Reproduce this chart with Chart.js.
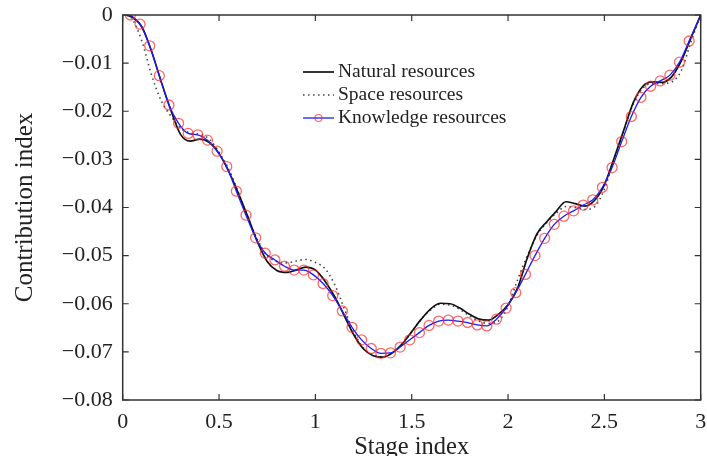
<!DOCTYPE html>
<html>
<head>
<meta charset="utf-8">
<script src="https://cdn.jsdelivr.net/npm/chart.js@4.4.1/dist/chart.umd.min.js"></script>
<style>
  html, body { margin: 0; padding: 0; background: #fff; }
  canvas { display: block; }
</style>
</head>
<body>
<canvas id="chart" width="707" height="456"></canvas>
<script>
const naturalX = [0.02, 0.05, 0.10, 0.15, 0.20, 0.25, 0.30, 0.35, 0.40, 0.45, 0.50, 0.55, 0.60, 0.65, 0.70, 0.75, 0.80, 0.85, 0.90, 0.95,
  1.00, 1.05, 1.10, 1.15, 1.20, 1.25, 1.30, 1.35, 1.40, 1.45, 1.50, 1.55, 1.60, 1.65, 1.70, 1.75, 1.80, 1.85, 1.90, 1.95,
  2.00, 2.05, 2.10, 2.15, 2.20, 2.25, 2.30, 2.35, 2.40, 2.45, 2.50, 2.55, 2.60, 2.65, 2.70, 2.75, 2.80, 2.85, 2.90, 2.95, 3.00];
const naturalY = [0, -0.0005, -0.0025, -0.0076, -0.0139, -0.0198, -0.0248, -0.0262, -0.0258, -0.0265, -0.0288, -0.0325, -0.0370, -0.0420, -0.0472, -0.0512, -0.0531, -0.0535, -0.0530, -0.0524,
  -0.0530, -0.0553, -0.0585, -0.0625, -0.0665, -0.0694, -0.0708, -0.0711, -0.0702, -0.0684, -0.0658, -0.0632, -0.0610, -0.0599, -0.0600, -0.0609, -0.0622, -0.0632, -0.0634, -0.0622,
  -0.0602, -0.0567, -0.0505, -0.0455, -0.0430, -0.0408, -0.0388, -0.0392, -0.0397, -0.0385, -0.0353, -0.0298, -0.0240, -0.0182, -0.0148, -0.0139, -0.0140, -0.0128, -0.0095, -0.0047, 0];

const spaceX = naturalX;
const spaceY = [0, -0.0008, -0.0055, -0.0125, -0.0178, -0.0210, -0.0235, -0.0245, -0.0248, -0.0258, -0.0285, -0.0320, -0.0368, -0.0420, -0.0467, -0.0500, -0.0512, -0.0515, -0.0511, -0.0508,
  -0.0514, -0.0527, -0.0560, -0.0610, -0.0660, -0.0692, -0.0707, -0.0710, -0.0702, -0.0684, -0.0658, -0.0632, -0.0612, -0.0601, -0.0603, -0.0612, -0.0625, -0.0636, -0.0641, -0.0636,
  -0.0605, -0.0550, -0.0500, -0.0458, -0.0432, -0.0412, -0.0398, -0.0400, -0.0404, -0.0398, -0.0362, -0.0300, -0.0242, -0.0185, -0.0152, -0.0142, -0.0142, -0.0139, -0.0115, -0.0055, 0];

// knowledge: markers every 0.05 from 0.04, line closes at x = 3
const knowledgeX = [0.04, 0.09, 0.14, 0.19, 0.24, 0.29, 0.34, 0.39, 0.44, 0.49, 0.54, 0.59, 0.64, 0.69, 0.74, 0.79, 0.84, 0.89, 0.94, 0.99,
  1.04, 1.09, 1.14, 1.19, 1.24, 1.29, 1.34, 1.39, 1.44, 1.49, 1.54, 1.59, 1.64, 1.69, 1.74, 1.79, 1.84, 1.89, 1.94, 1.99,
  2.04, 2.09, 2.14, 2.19, 2.24, 2.29, 2.34, 2.39, 2.44, 2.49, 2.54, 2.59, 2.64, 2.69, 2.74, 2.79, 2.84, 2.89, 2.94, 3.00];
const knowledgeY = [0, -0.0019, -0.0064, -0.0126, -0.0187, -0.0225, -0.0246, -0.0249, -0.0260, -0.0283, -0.0315, -0.0366, -0.0416, -0.0463, -0.0495, -0.0509, -0.0522, -0.0530, -0.0530, -0.0540,
  -0.0558, -0.0583, -0.0615, -0.0649, -0.0675, -0.0693, -0.0703, -0.0702, -0.0690, -0.0675, -0.0660, -0.0645, -0.0636, -0.0634, -0.0636, -0.0639, -0.0644, -0.0646, -0.0632, -0.0609,
  -0.0577, -0.0539, -0.0500, -0.0464, -0.0435, -0.0418, -0.0407, -0.0395, -0.0384, -0.0358, -0.0317, -0.0263, -0.0211, -0.0171, -0.0148, -0.0137, -0.0125, -0.0098, -0.0054, 0];

const seriesNames = ['Natural resources', 'Space resources', 'Knowledge resources'];
const xTitle = 'Stage index';
const yTitle = 'Contribution index';

const FONT = '"Liberation Serif", "Times New Roman", serif';
const INK = '#222';

const toPoints = (xs, ys) => xs.map((x, i) => ({ x, y: ys[i] }));

// boxed axes with inward ticks on all four sides
const frame = {
  id: 'frame',
  afterDatasetsDraw(chart) {
    const { ctx, chartArea: a, scales } = chart;
    ctx.save();
    ctx.strokeStyle = '#333';
    ctx.lineWidth = 1.5;
    ctx.strokeRect(a.left, a.top, a.right - a.left, a.bottom - a.top);
    ctx.lineWidth = 1.2;
    ctx.beginPath();
    scales.x.ticks.forEach((t) => {
      const px = scales.x.getPixelForValue(t.value);
      ctx.moveTo(px, a.bottom); ctx.lineTo(px, a.bottom - 6);
      ctx.moveTo(px, a.top); ctx.lineTo(px, a.top + 6);
    });
    scales.y.ticks.forEach((t) => {
      const py = scales.y.getPixelForValue(t.value);
      ctx.moveTo(a.left, py); ctx.lineTo(a.left + 6, py);
      ctx.moveTo(a.right, py); ctx.lineTo(a.right - 6, py);
    });
    ctx.stroke();
    ctx.restore();
  },
};

// legend inside the plot, no border
const insideLegend = {
  id: 'insideLegend',
  afterDraw(chart) {
    const { ctx } = chart;
    const x0 = 303, x1 = 334, tx = 338, y0 = 72, dy = 23;
    ctx.save();
    ctx.font = '19.5px ' + FONT;
    ctx.textBaseline = 'middle';
    chart.data.datasets.forEach((ds, i) => {
      const y = y0 + i * dy;
      ctx.strokeStyle = ds.borderColor;
      ctx.lineWidth = ds.borderWidth;
      ctx.setLineDash(ds.borderDash || []);
      ctx.beginPath(); ctx.moveTo(x0, y); ctx.lineTo(x1, y); ctx.stroke();
      ctx.setLineDash([]);
      if (ds.legendMarker) {
        ctx.strokeStyle = ds.pointBorderColor;
        ctx.lineWidth = 1.2;
        ctx.beginPath(); ctx.arc((x0 + x1) / 2, y, 3.5, 0, Math.PI * 2); ctx.stroke();
      }
      ctx.fillStyle = INK;
      ctx.fillText(ds.label, tx, y);
    });
    ctx.restore();
  },
};

new Chart(document.getElementById('chart'), {
  type: 'line',
  data: {
    datasets: [
      {
        label: seriesNames[0],
        data: toPoints(naturalX, naturalY),
        borderColor: '#111',
        borderWidth: 1.7,
        pointRadius: 0,
        cubicInterpolationMode: 'monotone',
        order: 2,
      },
      {
        label: seriesNames[1],
        data: toPoints(spaceX, spaceY),
        borderColor: '#444',
        borderWidth: 1.6,
        borderDash: [1.5, 3.5],
        pointRadius: 0,
        cubicInterpolationMode: 'monotone',
        order: 3,
      },
      {
        label: seriesNames[2],
        data: toPoints(knowledgeX, knowledgeY),
        borderColor: '#1a1aff',
        borderWidth: 1.3,
        pointRadius: knowledgeX.map((x) => (x >= 3 ? 0 : 5)),
        pointBorderColor: 'rgba(255, 40, 40, 0.7)',
        pointBackgroundColor: 'rgba(0,0,0,0)',
        pointBorderWidth: 1.3,
        cubicInterpolationMode: 'monotone',
        legendMarker: true,
        order: 1,
      },
    ],
  },
  options: {
    responsive: false,
    animation: false,
    layout: { padding: { left: 0, right: 4.7, top: 15, bottom: 0 } },
    plugins: { legend: { display: false }, tooltip: { enabled: false } },
    scales: {
      x: {
        type: 'linear',
        min: 0,
        max: 3,
        grid: { display: false, drawTicks: false },
        border: { display: false },
        ticks: {
          stepSize: 0.5,
          padding: 9,
          maxRotation: 0,
          color: INK,
          font: { family: FONT, size: 22 },
          callback: (v) => String(v),
        },
        title: { display: true, text: xTitle, color: INK, font: { family: FONT, size: 24.5 }, padding: { top: 0, bottom: -6 } },
        afterFit(s) { s.height = 56; s.paddingLeft = 0; s.paddingRight = 0; },
      },
      y: {
        type: 'linear',
        min: -0.08,
        max: 0,
        grid: { display: false, drawTicks: false },
        border: { display: false },
        ticks: {
          stepSize: 0.01,
          padding: 10,
          color: INK,
          font: { family: FONT, size: 22 },
          callback: (v) => (Math.abs(v) < 1e-9 ? '0' : '\u2212' + Math.abs(v).toFixed(2)),
        },
        title: { display: true, text: yTitle, color: INK, font: { family: FONT, size: 25 }, padding: { top: 10, bottom: 0 } },
        afterFit(s) { s.width = 122.7; s.paddingTop = 0; s.paddingBottom = 0; },
      },
    },
  },
  plugins: [frame, insideLegend],
});
</script>
</body>
</html>
